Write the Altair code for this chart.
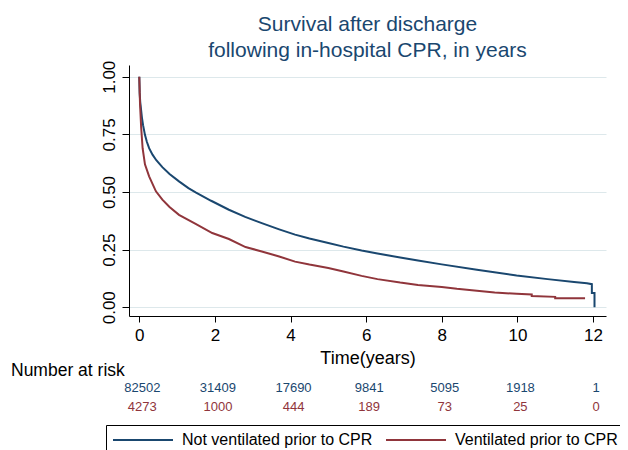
import altair as alt
import pandas as pd

FONT = "Liberation Sans"
NAVY = "#1a476f"
MAROON = "#90353b"

group_names = ["Not ventilated prior to CPR", "Ventilated prior to CPR"]
group_colors = [NAVY, MAROON]

# Kaplan-Meier estimates (time in years, survival)
blue_t = [0, 0.01, 0.025, 0.044, 0.07, 0.1, 0.15, 0.2, 0.26, 0.35, 0.45, 0.61, 0.8,
          1.05, 1.3, 1.49, 1.9, 2.37, 2.8, 3.24, 3.7, 4.12, 4.5, 5.0, 5.4, 5.88, 6.3,
          6.9, 7.37, 8.0, 8.93, 9.98, 10.8, 11.5, 11.84, 11.97, 11.97, 12.04, 12.04]
blue_s = [1.0, 0.93, 0.89, 0.862, 0.823, 0.79, 0.748, 0.718, 0.69, 0.662, 0.638, 0.608, 0.578,
          0.546, 0.517, 0.498, 0.462, 0.423, 0.392, 0.365, 0.338, 0.315, 0.298, 0.279, 0.263, 0.246, 0.233,
          0.216, 0.203, 0.186, 0.163, 0.138, 0.122, 0.110, 0.104, 0.100, 0.062, 0.062, 0.0]

red_t = [0, 0.02, 0.05, 0.088, 0.15, 0.26, 0.44, 0.61, 0.8, 1.05, 1.49, 1.93, 2.37,
         2.81, 3.24, 3.7, 4.12, 4.5, 5.0, 5.4, 5.88, 6.3, 6.9, 7.37, 8.0, 8.4, 8.93,
         9.4, 9.98, 10.38, 10.38, 11.0, 11.0, 11.79]
red_s = [1.0, 0.88, 0.78, 0.69, 0.62, 0.568, 0.503, 0.467, 0.435, 0.401, 0.362, 0.322, 0.296,
         0.261, 0.242, 0.22, 0.198, 0.185, 0.17, 0.155, 0.136, 0.122, 0.107, 0.097, 0.088, 0.08, 0.072,
         0.064, 0.058, 0.055, 0.049, 0.045, 0.039, 0.039]

risk_times = [0, 2, 4, 6, 8, 10, 12]
risk_not_vent = [82502, 31409, 17690, 9841, 5095, 1918, 1]
risk_vent = [4273, 1000, 444, 189, 73, 25, 0]

x_ticks = [0, 2, 4, 6, 8, 10, 12]
y_ticks = [0, 0.25, 0.5, 0.75, 1.0]

curves = pd.DataFrame({
    "t": blue_t + red_t,
    "s": blue_s + red_s,
    "group": [group_names[0]] * len(blue_t) + [group_names[1]] * len(red_t),
    "idx": list(range(len(blue_t))) + list(range(len(red_t))),
})
risk = pd.DataFrame({
    "t": risk_times * 2,
    "n": risk_not_vent + risk_vent,
    "group": [group_names[0]] * len(risk_times) + [group_names[1]] * len(risk_times),
})
label_df = pd.DataFrame({"label": ["Number at risk"]})

xscale = alt.Scale(domain=[-0.272, 12.344], nice=False, zero=False)
color_scale = alt.Scale(domain=group_names, range=group_colors)

lines = alt.Chart(curves).mark_line(strokeWidth=2).encode(
    x=alt.X("t:Q", scale=xscale,
            axis=alt.Axis(values=x_ticks, title="Time(years)", grid=False,
                          labelFontSize=17, tickSize=6, labelPadding=5,
                          titleFontSize=18, titlePadding=6, labelFlush=False)),
    y=alt.Y("s:Q", scale=alt.Scale(domain=[-0.038, 1.051], nice=False, zero=False),
            axis=alt.Axis(values=y_ticks, format=".2f", title=None, grid=True,
                          gridColor="#dde8eb", gridWidth=1,
                          labelAngle=270, labelAlign="center", labelBaseline="alphabetic",
                          labelFontSize=17, tickSize=7, labelPadding=8, labelFlush=False)),
    color=alt.Color("group:N", scale=color_scale,
                    legend=alt.Legend(orient="none", legendX=-23, legendY=360,
                                      direction="horizontal", title=None,
                                      symbolType="M-3.75,0H3.75", symbolSize=256,
                                      symbolOffset=22, symbolStrokeWidth=2,
                                      labelFontSize=16, labelFont=FONT, labelColor="black",
                                      labelOffset=30, columnPadding=9, padding=6,
                                      strokeColor="black", fillColor="white",
                                      labelLimit=500)),
    order="idx:Q",
)

risk_text = alt.Chart(risk).mark_text(fontSize=13, font=FONT, baseline="middle", dx=3).encode(
    x=alt.X("t:Q", scale=xscale),
    y=alt.Y("group:N", scale=alt.Scale(type="point", domain=group_names,
                                       range=[323.3, 341.7], padding=0), axis=None),
    text=alt.Text("n:Q", format="d"),
    color=alt.Color("group:N", scale=color_scale, legend=None),
)

risk_label = alt.Chart(label_df).mark_text(
    align="left", baseline="middle", fontSize=17.5, font=FONT, color="black"
).encode(x=alt.value(-118), y=alt.value(306), text="label:N")

chart = alt.layer(lines, risk_text, risk_label).resolve_scale(
    y="independent"
).properties(
    width=477, height=251,
    title=alt.TitleParams(
        ["Survival after discharge", "following in-hospital CPR, in years"],
        fontSize=21, font=FONT, color=NAVY, fontWeight="normal",
        anchor="middle", lineHeight=26.5, offset=-1,
    ),
    padding={"left": 121, "top": 57, "right": 14, "bottom": 134},
    autosize=alt.AutoSizeParams(type="none"),
).configure_view(stroke=None).configure_axis(
    labelFont=FONT, titleFont=FONT, labelColor="black", titleColor="black",
    domainColor="black", tickColor="black", domainWidth=1, tickWidth=1,
    titleFontWeight="normal",
)

chart.save("out.html", embed_options={"renderer": "svg", "actions": False})
